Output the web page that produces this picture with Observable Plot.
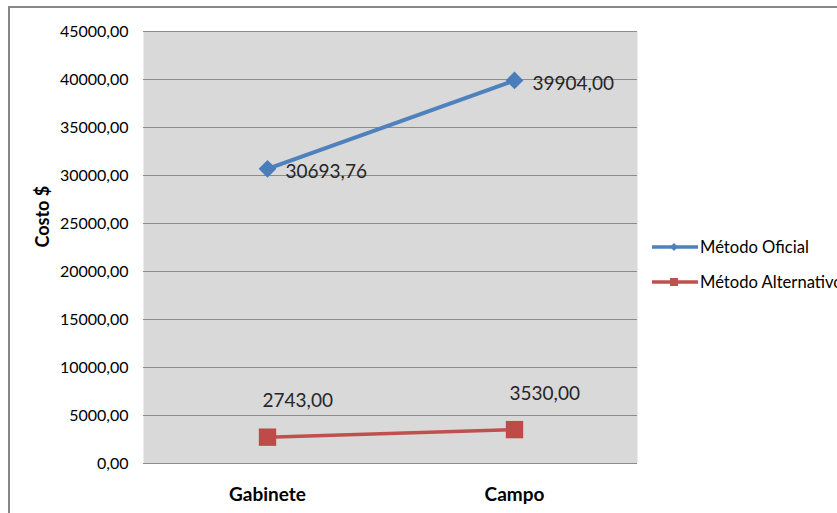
<!DOCTYPE html>
<html>
<head>
<meta charset="utf-8">
<script src="https://cdn.jsdelivr.net/npm/d3@7"></script>
<script src="https://cdn.jsdelivr.net/npm/@observablehq/plot@0.6"></script>
<style>
  html, body { margin: 0; padding: 0; background: #fff; }
  #wrap { position: relative; width: 837px; height: 513px; overflow: hidden; font-family: Lato, "Open Sans", sans-serif; }
  #border { position: absolute; left: 8px; top: 6px; width: 1000px; height: 1000px; border: 2px solid #878787; box-sizing: border-box; }
  #chart { position: absolute; left: 0; top: 0; }
  #legend { position: absolute; left: 651px; top: 229px; white-space: nowrap; }
  .item { height: 35px; display: flex; align-items: center; font-size: 16.6px; color: #000; }
  .item svg { margin-right: 1px; }
</style>
</head>
<body>
<div id="wrap">
  <div id="border"></div>
  <div id="chart"></div>
  <div id="legend"></div>
</div>
<script>
const categories = ["Gabinete", "Campo"];
const oficial = [30693.76, 39904.00];
const alternativo = [2743.00, 3530.00];
const seriesNames = ["Método Oficial", "Método Alternativo"];
const seriesColors = ["#4f81bd", "#c0504d"];
const yTicks = [0, 5000, 10000, 15000, 20000, 25000, 30000, 35000, 40000, 45000];
const yTitle = "Costo $";

const fmt = d => d.toFixed(2).replace(".", ",");

const rowsOf = (vals, name) => categories.map((c, i) => ({cat: c, value: vals[i], series: name}));
const rowsOficial = rowsOf(oficial, seriesNames[0]);
const rowsAlt = rowsOf(alternativo, seriesNames[1]);

const plot = Plot.plot({
  width: 837,
  height: 513,
  marginLeft: 143,
  marginRight: 200,
  marginTop: 31,
  marginBottom: 50,
  style: {background: "transparent", color: "#000", fontFamily: "Lato, 'Open Sans', sans-serif"},
  x: {type: "point", domain: categories, padding: 0.5, label: null},
  y: {domain: [0, 45000], label: null},
  marks: [
    Plot.frame({fill: "#d9d9d9", stroke: null}),
    Plot.ruleY(yTicks, {stroke: "#8c8c8c", strokeWidth: 1.2}),
    Plot.axisY({ticks: yTicks, tickFormat: fmt, tickSize: 0, tickPadding: 15, fontSize: 16, label: null, line: true, stroke: "#8c8c8c"}),
    Plot.axisX({tickSize: 0, tickPadding: 24, fontSize: 19, fontWeight: "bold", label: null}),
    Plot.text([yTitle], {frameAnchor: "left", rotate: -90, dx: -100, fontSize: 18, fontWeight: "bold", fill: "#000"}),
    Plot.line(rowsOficial, {x: "cat", y: "value", stroke: seriesColors[0], strokeWidth: 4}),
    Plot.line(rowsAlt, {x: "cat", y: "value", stroke: seriesColors[1], strokeWidth: 3.5}),
    Plot.dot(rowsOficial, {x: "cat", y: "value", symbol: "diamond2", r: 8, fill: "#4a7ebb", stroke: null}),
    Plot.dot(rowsAlt, {x: "cat", y: "value", symbol: "square", r: 9.8, fill: "#be4b48", stroke: null}),
    Plot.text(rowsOficial, {x: "cat", y: "value", text: d => fmt(d.value), textAnchor: "start", dx: 18, dy: 3, fontSize: 19, fill: "#262626"}),
    Plot.text(rowsAlt, {x: "cat", y: "value", text: d => fmt(d.value), textAnchor: "start", dx: -5, dy: -36, fontSize: 19, fill: "#262626"})
  ]
});
document.getElementById("chart").appendChild(plot);

// Legend
const legend = document.getElementById("legend");
seriesNames.forEach((name, i) => {
  const item = document.createElement("div");
  item.className = "item";
  const col = seriesColors[i];
  const marker = i === 0
    ? `<polygon points="23,3 27,7 23,11 19,7" fill="${col}"/>`
    : `<rect x="19" y="3" width="8" height="8" fill="${col}"/>`;
  item.innerHTML = `<svg width="48" height="14"><line x1="1" x2="47" y1="7" y2="7" stroke="${col}" stroke-width="3.5"/>${marker}</svg><span>${name}</span>`;
  legend.appendChild(item);
});
</script>
</body>
</html>
